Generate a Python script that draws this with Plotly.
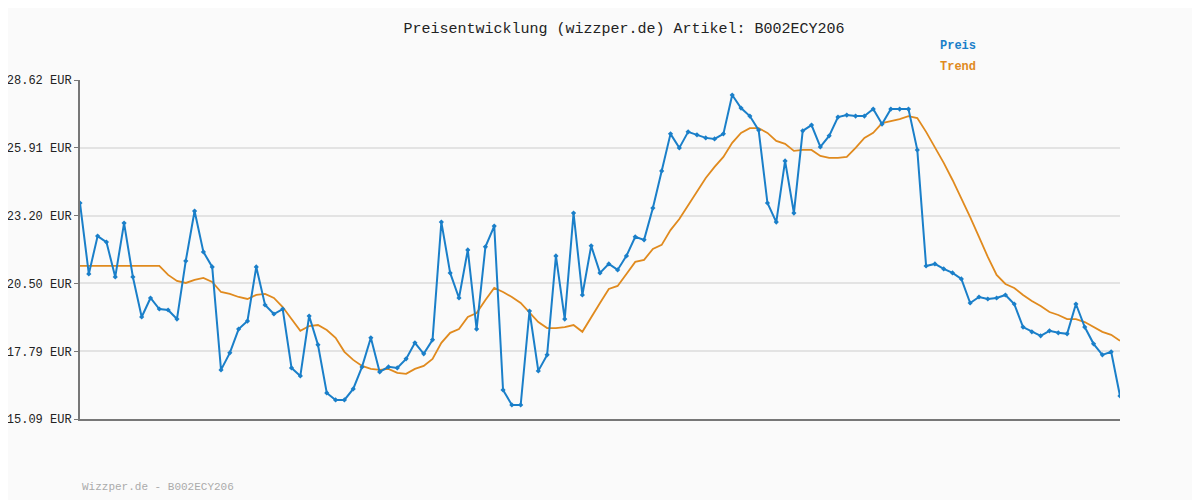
import plotly.graph_objects as go

# price points (EUR)
preis = [23.71, 20.88, 22.39, 22.15, 20.76, 22.91, 20.76, 19.16, 19.92, 19.48,
         19.44, 19.08, 21.40, 23.39, 21.76, 21.16, 17.05, 17.73, 18.68, 19.00,
         21.16, 19.64, 19.28, 19.48, 17.13, 16.81, 19.20, 18.05, 16.13, 15.85,
         15.85, 16.29, 17.17, 18.33, 16.97, 17.17, 17.13, 17.49, 18.13, 17.69,
         18.25, 22.95, 20.92,
         19.92, 21.84, 18.68, 21.96, 22.79, 16.25, 15.65, 15.65, 19.40, 17.01,
         17.65, 21.60, 19.08, 23.31, 20.04, 22.00, 20.92, 21.28, 21.04, 21.60,
         22.36, 22.24, 23.51, 24.99, 26.47, 25.91, 26.55, 26.43, 26.31, 26.27,
         26.47, 28.02, 27.50, 27.18, 26.62, 23.71, 22.95, 25.39, 23.31, 26.59,
         26.82, 25.95, 26.39, 27.14, 27.22, 27.18, 27.18, 27.46, 26.86, 27.46,
         27.46, 27.46, 25.83, 21.20, 21.28, 21.08, 20.92, 20.68, 19.72, 19.96,
         19.88, 19.92, 20.04, 19.68, 18.76, 18.57, 18.41, 18.61, 18.53, 18.49,
         19.68, 18.76, 18.09, 17.65, 17.77, 16.01]

trend = [21.20] * 10 + [
         20.84, 20.60, 20.52, 20.64, 20.72, 20.56, 20.16, 20.08, 19.96, 19.88,
         20.04, 20.08, 19.92, 19.56, 19.08, 18.61, 18.80, 18.84, 18.64, 18.33,
         17.77, 17.45, 17.21, 17.09, 17.05, 17.09, 16.93, 16.89, 17.09, 17.21,
         17.49, 18.13, 18.53,
         18.68, 19.16, 19.32, 19.84, 20.32, 20.16, 19.96, 19.72, 19.36, 18.96,
         18.72, 18.72, 18.76, 18.84, 18.57, 19.16, 19.72, 20.28, 20.40, 20.88,
         21.36, 21.44, 21.88, 22.04, 22.63, 23.07, 23.63, 24.15, 24.71, 25.15,
         25.55, 26.11, 26.51, 26.70, 26.70, 26.51, 26.19, 26.07, 25.79, 25.83,
         25.83, 25.59, 25.51, 25.51, 25.55, 25.91, 26.31, 26.51, 26.90, 26.98,
         27.06, 27.18, 27.10, 26.55, 25.95, 25.31, 24.63, 23.91, 23.15, 22.36,
         21.56, 20.84, 20.48, 20.32, 20.04, 19.80, 19.60, 19.36, 19.24, 19.08,
         19.08, 18.96, 18.76, 18.57, 18.45, 18.21]

y_ticks = [15.09, 17.79, 20.50, 23.20, 25.91, 28.62]
x = list(range(len(preis)))

mono = "Liberation Mono"
blue = "#1a7fc9"
orange = "#e08a1e"

fig = go.Figure()
fig.add_trace(go.Scatter(x=x, y=trend, mode="lines", name="Trend",
                         line=dict(color=orange, width=1.8)))
fig.add_trace(go.Scatter(x=x, y=preis, mode="lines+markers", name="Preis",
                         line=dict(color=blue, width=2),
                         marker=dict(symbol="diamond", size=4, color=blue)))

# page body has an 8px margin, so the figure is shrunk by 8px
fig.update_layout(
    width=1192, height=492, showlegend=False,
    paper_bgcolor="#fafafa", plot_bgcolor="#fafafa",
    margin=dict(l=72, r=80, t=72, b=81, autoexpand=False),
    title=dict(text="Preisentwicklung (wizzper.de) Artikel: B002ECY206",
               x=(624 - 8) / 1192, y=1 - 20 / 492, xanchor="center", yanchor="middle",
               font=dict(family=mono, size=15, color="#222")),
    font=dict(family=mono, size=12, color="#222"),
)
fig.update_xaxes(range=[0, len(preis) - 1], showticklabels=False, showgrid=False,
                 zeroline=False, showline=True, linecolor="#777", linewidth=2)
fig.update_yaxes(range=[y_ticks[0], y_ticks[-1]], tickvals=y_ticks,
                 ticktext=[f"{v:.2f} EUR" for v in y_ticks],
                 showgrid=True, gridcolor="#e3e3e3", gridwidth=2,
                 zeroline=False, showline=True, linecolor="#777", linewidth=2,
                 ticks="outside", ticklen=4, tickcolor="#777",
                 tickfont=dict(family=mono, size=12, color="#222"))

fig.add_annotation(text="<b>Preis</b>", xref="paper", yref="paper", x=0.825, y=1.099,
                   xanchor="left", yanchor="middle", showarrow=False,
                   font=dict(family=mono, size=12, color=blue))
fig.add_annotation(text="<b>Trend</b>", xref="paper", yref="paper", x=0.825, y=1.037,
                   xanchor="left", yanchor="middle", showarrow=False,
                   font=dict(family=mono, size=12, color=orange))
fig.add_annotation(text="Wizzper.de - B002ECY206", xref="paper", yref="paper", x=0, y=-0.2,
                   xanchor="left", yanchor="middle", showarrow=False,
                   font=dict(family=mono, size=11, color="#aaa"))

fig.write_html("out.html")
